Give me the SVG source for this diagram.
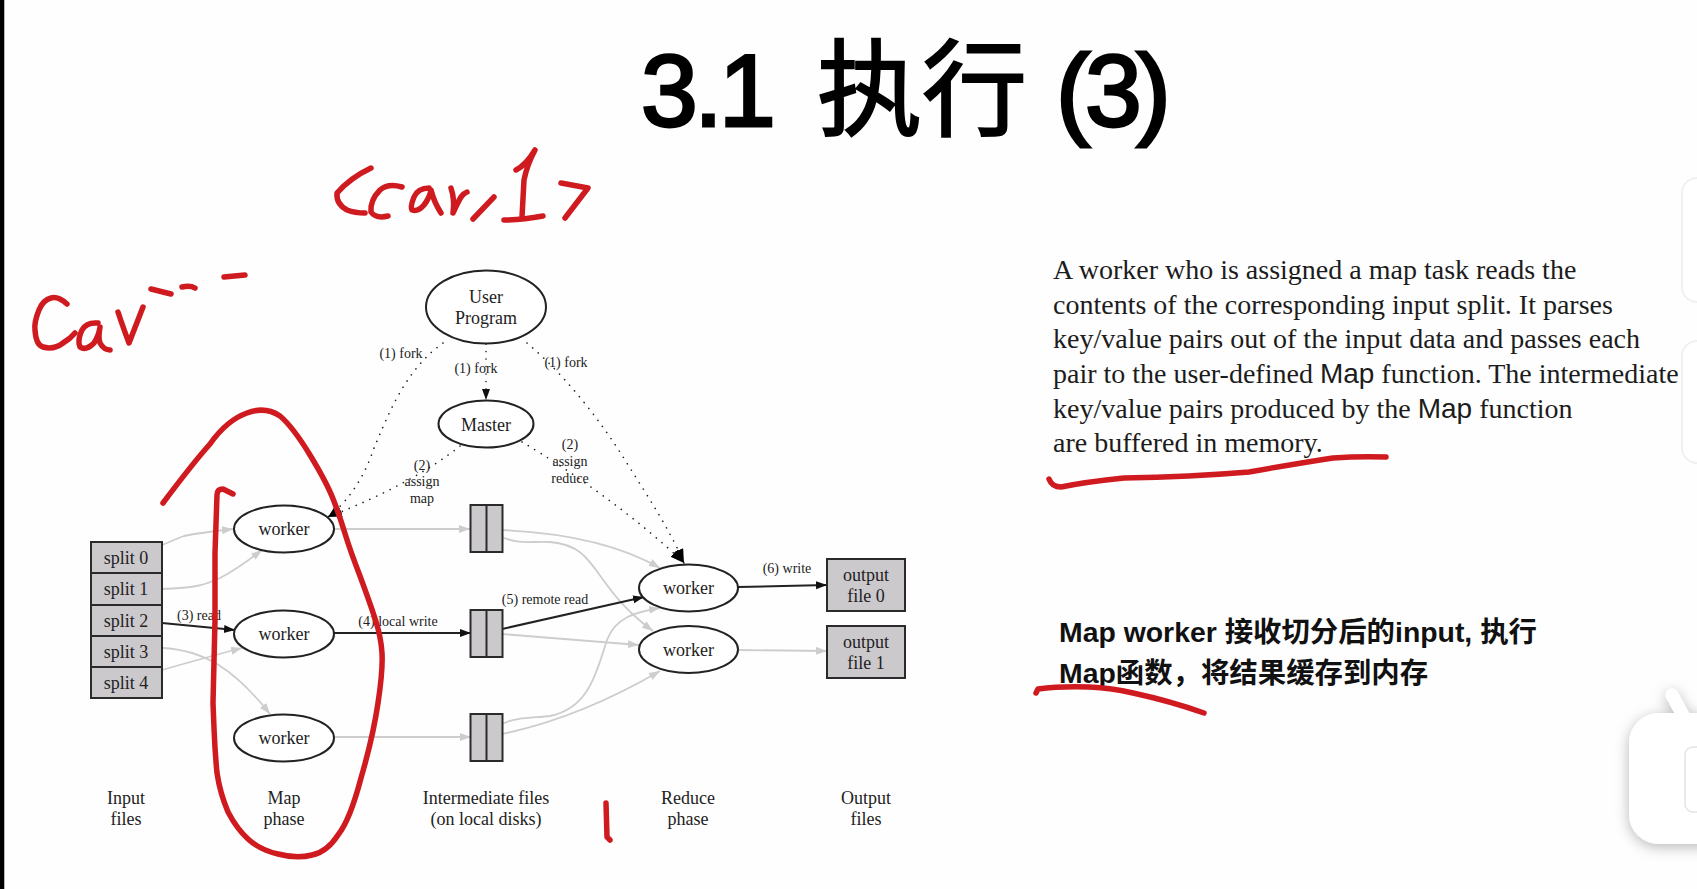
<svg xmlns="http://www.w3.org/2000/svg" width="1697" height="889" viewBox="0 0 1697 889">
<style>
.s{font-family:"Liberation Serif","Noto Sans CJK SC",serif;fill:#222;text-anchor:middle}
.n{font-size:18px}
.e{font-size:14px}
.p{font-family:"Liberation Serif",serif;font-size:28px;fill:#1c1c1c}
.h{font-family:"Liberation Sans",sans-serif}
.t{font-family:"Liberation Sans","Noto Sans CJK SC",sans-serif;font-size:102px;fill:#000;stroke:#000;stroke-width:3}
.c{font-size:105px;stroke-width:2}
.z{font-family:"Liberation Sans","Noto Sans CJK SC",sans-serif;font-size:28.4px;font-weight:700;fill:#111}
.b{fill:#fff;stroke:#222;stroke-width:2}
.f{fill:#cbc9cc;stroke:#2a2a2a;stroke-width:2}
.g{fill:none;stroke:#cdcdcd;stroke-width:1.8}
.k{fill:none;stroke:#222;stroke-width:2}
.d{fill:none;stroke:#222;stroke-width:1.6;stroke-linecap:round;stroke-dasharray:0.1 7.4}
.r{fill:none;stroke:#cf1b20;stroke-width:5.5;stroke-linecap:round;stroke-linejoin:round}
</style>
<defs>
<marker id="ag" markerUnits="userSpaceOnUse" markerWidth="12" markerHeight="10" refX="11" refY="4" orient="auto"><path d="M0,0L11,4L0,8Z" fill="#cdcdcd"/></marker>
<marker id="ak" markerUnits="userSpaceOnUse" markerWidth="12" markerHeight="10" refX="11" refY="4" orient="auto"><path d="M0,0L11,4L0,8Z" fill="#111"/></marker>
<marker id="ad" markerUnits="userSpaceOnUse" markerWidth="15" markerHeight="12" refX="14" refY="5" orient="auto"><path d="M0,0L14,5L0,10Z" fill="#000"/></marker>
<filter id="sh" x="-30%" y="-30%" width="160%" height="160%"><feDropShadow dx="0" dy="3" stdDeviation="7" flood-color="#000" flood-opacity="0.28"/></filter>
</defs>
<rect width="1697" height="889" fill="#fefefe"/>
<rect x="0" y="0" width="4" height="889" fill="#000"/>
<rect x="4" y="0" width="1" height="889" fill="#bbb"/>
<g id="side-panels" fill="#fff" stroke="#f0f0f2" stroke-width="2">
<rect x="1682" y="178" width="40" height="124" rx="15"/>
<rect x="1682" y="341" width="40" height="122" rx="15"/>
</g>
<g id="title">
<text class="t" x="641" y="126" letter-spacing="-3.5">3.1</text>
<text class="t c" x="817" y="127">执行</text>
<text class="t" x="1056" y="126" letter-spacing="-5">(3)</text>
</g>
<g id="connectors">
<path class="d" d="M443,343C405,370 388,415 374,448C365,475 350,500 328,517" marker-end="url(#ad)"/>
<path class="d" d="M486,344L486,400" marker-end="url(#ak)"/>
<path class="d" d="M527,343C565,375 600,420 625,460C650,500 670,530 684,563" marker-end="url(#ad)"/>
<path class="d" d="M460,446C430,470 385,495 328,517" marker-end="url(#ad)"/>
<path class="d" d="M522,442C570,470 640,520 684,563" marker-end="url(#ad)"/>
<path class="g" d="M162,545C172,541 178,538 184,536C198,533 215,531 233,529" marker-end="url(#ag)"/>
<path class="g" d="M162,589C195,588 205,585 220,578C235,570 245,563 262,550" marker-end="url(#ag)"/>
<path class="k" d="M162,623L235,630" marker-end="url(#ak)"/>
<path class="g" d="M162,648C205,650 235,670 270,714" marker-end="url(#ag)"/>
<path class="g" d="M162,670C190,662 215,655 242,648" marker-end="url(#ag)"/>
<path class="g" d="M334,529L470,529" marker-end="url(#ag)"/>
<path class="k" d="M334,633L471,633" marker-end="url(#ak)"/>
<path class="g" d="M334,737L471,737" marker-end="url(#ag)"/>
<path class="g" d="M502,530C570,533 620,545 660,568" marker-end="url(#ag)"/>
<path class="g" d="M502,537C520,545 530,541 550,542C600,546 590,585 653,631" marker-end="url(#ag)"/>
<path class="k" d="M502,629L644,597" marker-end="url(#ak)"/>
<path class="g" d="M502,634L639,645" marker-end="url(#ag)"/>
<path class="g" d="M502,724C515,717 535,718 550,716C590,708 597,670 607,640C615,618 635,612 660,608" marker-end="url(#ag)"/>
<path class="g" d="M502,734C560,722 610,700 660,671" marker-end="url(#ag)"/>
<path class="k" d="M738,587L827,585" marker-end="url(#ak)"/>
<path class="g" d="M738,650L827,651" marker-end="url(#ag)"/>
</g>
<g id="edge-labels">
<text class="s e" x="401" y="358">(1) fork</text>
<text class="s e" x="476" y="373">(1) fork</text>
<text class="s e" x="566" y="367">(1) fork</text>
<text class="s e" x="422" y="470">(2)</text>
<text class="s e" x="422" y="486">assign</text>
<text class="s e" x="422" y="503">map</text>
<text class="s e" x="570" y="449">(2)</text>
<text class="s e" x="570" y="466">assign</text>
<text class="s e" x="570" y="483">reduce</text>
<text class="s e" x="199" y="620">(3) read</text>
<text class="s e" x="398" y="626">(4) local write</text>
<text class="s e" x="545" y="604">(5) remote read</text>
<text class="s e" x="787" y="573">(6) write</text>
</g>
<g id="user-program"><ellipse class="b" cx="486" cy="307" rx="60" ry="36.5"/><text class="s n" x="486" y="303">User</text><text class="s n" x="486" y="324">Program</text></g>
<g id="master"><ellipse class="b" cx="486" cy="424" rx="47.5" ry="23.5"/><text class="s n" x="486" y="431">Master</text></g>
<g id="input-splits">
<rect class="f" x="91" y="542" width="71" height="31"/><text class="s n" x="126" y="564">split 0</text>
<rect class="f" x="91" y="573" width="71" height="32"/><text class="s n" x="126" y="595">split 1</text>
<rect class="f" x="91" y="605" width="71" height="31"/><text class="s n" x="126" y="627">split 2</text>
<rect class="f" x="91" y="636" width="71" height="31"/><text class="s n" x="126" y="658">split 3</text>
<rect class="f" x="91" y="667" width="71" height="31"/><text class="s n" x="126" y="689">split 4</text>
</g>
<g id="map-worker-0"><ellipse class="b" cx="284" cy="529" rx="50" ry="23.5"/><text class="s n" x="284" y="535">worker</text></g>
<g id="map-worker-1"><ellipse class="b" cx="284" cy="634" rx="50" ry="23.5"/><text class="s n" x="284" y="640">worker</text></g>
<g id="map-worker-2"><ellipse class="b" cx="284" cy="738" rx="50" ry="23.5"/><text class="s n" x="284" y="744">worker</text></g>
<g id="intermediate-0"><rect class="f" x="470.500" y="505" width="32" height="47"/><path d="M486.500,505V552" stroke="#2a2a2a" stroke-width="2"/></g>
<g id="intermediate-1"><rect class="f" x="470.500" y="610" width="32" height="47"/><path d="M486.500,610V657" stroke="#2a2a2a" stroke-width="2"/></g>
<g id="intermediate-2"><rect class="f" x="470.500" y="714" width="32" height="47"/><path d="M486.500,714V761" stroke="#2a2a2a" stroke-width="2"/></g>
<g id="reduce-worker-0"><ellipse class="b" cx="688.500" cy="588" rx="49.5" ry="23.5"/><text class="s n" x="688.500" y="594">worker</text></g>
<g id="reduce-worker-1"><ellipse class="b" cx="688.500" cy="649.500" rx="49.5" ry="23.5"/><text class="s n" x="688.500" y="655.500">worker</text></g>
<g id="output-0"><rect class="f" x="827" y="559" width="78" height="52"/><text class="s n" x="866" y="581">output</text><text class="s n" x="866" y="602">file 0</text></g>
<g id="output-1"><rect class="f" x="827" y="626" width="78" height="52"/><text class="s n" x="866" y="648">output</text><text class="s n" x="866" y="669">file 1</text></g>
<g id="phase-labels">
<text class="s n" x="126" y="804">Input</text><text class="s n" x="126" y="825">files</text>
<text class="s n" x="284" y="804">Map</text><text class="s n" x="284" y="825">phase</text>
<text class="s n" x="486" y="804">Intermediate files</text><text class="s n" x="486" y="825">(on local disks)</text>
<text class="s n" x="688" y="804">Reduce</text><text class="s n" x="688" y="825">phase</text>
<text class="s n" x="866" y="804">Output</text><text class="s n" x="866" y="825">files</text>
</g>
<g id="description">
<text class="p" x="1053" y="279">A worker who is assigned a map task reads the</text>
<text class="p" x="1053" y="314">contents of the corresponding input split. It parses</text>
<text class="p" x="1053" y="348">key/value pairs out of the input data and passes each</text>
<text class="p" x="1053" y="383">pair to the user-defined <tspan class="h">Map</tspan> function. The intermediate</text>
<text class="p" x="1053" y="418">key/value pairs produced by the <tspan class="h">Map</tspan> function</text>
<text class="p" x="1053" y="452">are buffered in memory.</text>
</g>
<g id="note">
<text class="z" x="1059" y="642">Map worker 接收切分后的input, 执行</text>
<text class="z" x="1059" y="683">Map函数，将结果缓存到内存</text>
</g>
<g id="handwriting">
<path class="r" d="M163,503Q193,463 210,444Q227,420 247,413Q265,406 280,416Q293,427 310,455Q327,483 333.5,500Q340,517 345,533.5Q350,550 360,576Q370,603 375.5,620Q381,637 382,653Q383,670 378,703Q373,737 361,778Q350,820 338,835Q327,852 312,855Q297,859 278,854Q260,850 248,839Q237,829 228,812Q220,793 217,773Q215,753 214,728L213,703L215,620L215,553L217,495Q217,489 223,489L233,494"/>
<g transform="translate(2,0)">
<path class="r" d="M65,304Q56,296 49,298Q41,300 37,310Q32,322 33,330Q34,345 41,347Q52,350 61,343Q68,339 73,333"/>
<path class="r" d="M96,323Q84,322 80,330Q75,340 78,347Q84,351 92,343Q97,335 98,327Q96,338 98,343Q102,350 108,350"/>
<path class="r" d="M116,312Q122,330 127,343Q134,325 141,307"/>
</g>
<path class="r" d="M151,289L171,294M182,287Q190,285 195,288M224,277L245,275"/>
<path class="r" d="M371,168Q350,178 337,193Q336,204 347,210Q355,213 365,213"/>
<path class="r" d="M402,187Q388,183 380,190Q370,200 371,212Q376,219 388,216"/>
<path class="r" d="M429,188Q418,188 414,197Q410,207 412,210Q418,212 424,205Q430,197 431,190Q434,202 441,213"/>
<path class="r" d="M451,188Q455,200 453,213Q458,202 461,197Q464,193 467,192"/>
<path class="r" d="M494,197L473,219"/>
<path class="r" stroke-width="7" d="M516,170Q526,165 535,150Q527,165 524,180L522,217M504,220Q522,220 543,216"/>
<path class="r" d="M561,183L588,188L565,218"/>
<path class="r" d="M1049,479Q1052,487 1061,487Q1085,482 1124,478Q1190,477 1249,472Q1300,463 1333,458Q1360,456 1386,457"/>
<path class="r" stroke-width="4.500" d="M1036,693L1038,689Q1060,686 1089,687Q1112,688 1133,693Q1170,701 1204,713"/>
<path class="r" d="M606,803L607,837L610,840"/>
</g>
<g id="mascot" fill="#fff" filter="url(#sh)">
<path d="M1672,695L1684,717" stroke="#fff" stroke-width="13" stroke-linecap="round"/>
<rect x="1629" y="713" width="120" height="131" rx="30"/>
</g>
<rect id="mascot-screen" x="1685" y="747" width="30" height="65" rx="8" fill="#fff" stroke="#e4e4e4" stroke-width="1.500"/>
</svg>
